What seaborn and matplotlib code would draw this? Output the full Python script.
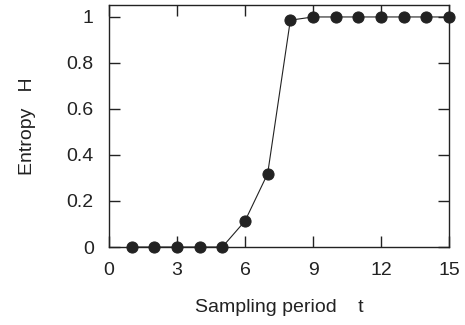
import pandas as pd
import seaborn as sns
from matplotlib import pyplot as plt

# 采样周期与熵
t = [1, 2, 3, 4, 5, 6, 7, 8, 9, 10, 11, 12, 13, 14, 15]
entropy = [0, 0, 0, 0, 0, 0.113, 0.319, 0.986, 1, 1, 1, 1, 1, 1, 1]
xticks = [0, 3, 6, 9, 12, 15]
yticks = [0, 0.2, 0.4, 0.6, 0.8, 1]
ytick_labels = ['0', '0.2', '0.4', '0.6', '0.8', '1']

df = pd.DataFrame({'t': t, 'H': entropy})

sns.set_style('ticks')
plt.rcParams['font.family'] = ['Liberation Sans', 'DejaVu Sans']

fig, ax = plt.subplots(figsize=(4.65, 3.25), dpi=100)
fig.subplots_adjust(left=109 / 465, right=449 / 465, top=1 - 5 / 325, bottom=1 - 247 / 325)

sns.lineplot(data=df, x='t', y='H', ax=ax, color='#222222', linewidth=0.8,
             marker='o', markersize=8, markeredgecolor='#222222',
             markerfacecolor='#222222', clip_on=False, zorder=3)

ax.set_xlim(0, 15)
ax.set_ylim(0, 1.052)
ax.set_xticks(xticks)
ax.set_yticks(yticks)
ax.set_yticklabels(ytick_labels)
ax.tick_params(direction='in', length=8, width=1, top=True, right=True,
               labelsize=14, pad=11, colors='#222222')
for s in ax.spines.values():
    s.set_visible(True)
    s.set_linewidth(1)
    s.set_color('#222222')

ax.set_xlabel('Sampling period    t', fontsize=14, color='#222222')
ax.set_ylabel('Entropy   H', fontsize=14, color='#222222')
ax.xaxis.set_label_coords(0.5, -0.215)
ax.yaxis.set_label_coords(-0.215, 0.5)

plt.savefig('out.png', dpi=100)
